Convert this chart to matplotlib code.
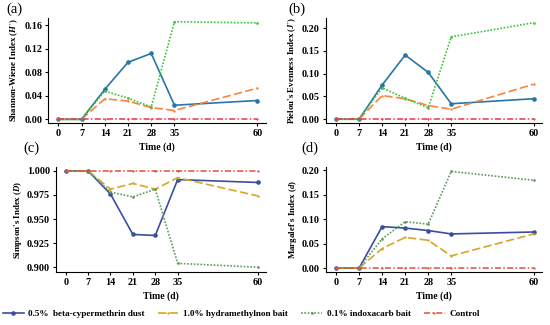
import matplotlib
matplotlib.use("Agg")
import matplotlib.pyplot as plt

plt.rcParams['font.family'] = ['Liberation Serif', 'DejaVu Serif']
plt.rcParams['mathtext.fontset'] = 'custom'
plt.rcParams['mathtext.rm'] = 'Liberation Serif:bold'
plt.rcParams['mathtext.it'] = 'Liberation Serif:italic:bold'

days = [0, 7, 14, 21, 28, 35, 60]
series_names = ["0.5%  beta-cypermethrin dust", "1.0% hydramethylnon bait",
                "0.1% indoxacarb bait", "Control"]

shannon = {
    "beta": [0, 0, 0.051, 0.097, 0.112, 0.024, 0.032],
    "hydra": [0, 0, 0.035, 0.031, 0.020, 0.015, 0.053],
    "indox": [0, 0, 0.048, 0.036, 0.021, 0.166, 0.164],
    "control": [0, 0, 0, 0, 0, 0, 0],
}
pielou = {
    "beta": [0, 0, 0.075, 0.141, 0.103, 0.034, 0.045],
    "hydra": [0, 0, 0.052, 0.045, 0.030, 0.022, 0.077],
    "indox": [0, 0, 0.069, 0.046, 0.025, 0.181, 0.212],
    "control": [0, 0, 0, 0, 0, 0, 0],
}
simpson = {
    "beta": [1, 1, 0.976, 0.934, 0.933, 0.991, 0.988],
    "hydra": [1, 1, 0.981, 0.987, 0.981, 0.993, 0.974],
    "indox": [1, 1, 0.978, 0.973, 0.981, 0.904, 0.900],
    "control": [1, 1, 1, 1, 1, 1, 1],
}
margalef = {
    "beta": [0, 0, 0.085, 0.082, 0.077, 0.070, 0.074],
    "hydra": [0, 0, 0.040, 0.063, 0.057, 0.025, 0.070],
    "indox": [0, 0, 0.060, 0.095, 0.090, 0.198, 0.180],
    "control": [0, 0, 0, 0, 0, 0, 0],
}

top_colors = {"beta": "#2677a6", "hydra": "#f98440", "indox": "#3cc43c", "control": "#e8364c"}
bot_colors = {"beta": "#3a4ea0", "hydra": "#d8a628", "indox": "#5f9a5f", "control": "#e0503a"}
styles = {"beta": dict(ls='-', marker='o', ms=2.3, lw=1.2),
          "hydra": dict(ls=(0, (5, 2)), marker='.', ms=1.5, lw=1.2),
          "indox": dict(ls=(0, (1, 1)), marker='.', ms=1.8, lw=1.2),
          "control": dict(ls=(0, (4, 1.5, 1, 1.5)), marker='.', ms=1.2, lw=1.1)}
keys = ["beta", "hydra", "indox", "control"]

fig = plt.figure(figsize=(5.5, 3.25), dpi=100)

panels = [
    ("(a)", shannon, "Shannon-Wiene Index ($\\mathit{H'}$)", [0.088, 0.622, 0.395, 0.322],
     (-0.006, 0.172), [0, 0.04, 0.08, 0.12, 0.16], "{:.2f}", top_colors, (0.012, 0.972)),
    ("(b)", pielou, "Pielou's Evenness Index ($\\mathit{J'}$)", [0.593, 0.622, 0.392, 0.322],
     (-0.008, 0.222), [0, 0.05, 0.10, 0.15, 0.20], "{:.2f}", top_colors, (0.525, 0.972)),
    ("(c)", simpson, "Simpson's Index ($\\mathit{D}$)", [0.102, 0.163, 0.381, 0.323],
     (0.895, 1.004), [0.900, 0.925, 0.950, 0.975, 1.000], "{:.3f}", bot_colors, (0.042, 0.545)),
    ("(d)", margalef, "Margalef's Index ($\\mathit{d}$)", [0.593, 0.163, 0.392, 0.323],
     (-0.008, 0.207), [0, 0.05, 0.10, 0.15, 0.20], "{:.2f}", bot_colors, (0.548, 0.545)),
]

for label, data, ylabel, pos, ylim, yticks, fmt, cols, lpos in panels:
    ax = fig.add_axes(pos)
    for k in keys:
        ax.plot(days, data[k], color=cols[k], **styles[k])
    ax.set_xlim(-3, 62.5)
    ax.set_ylim(*ylim)
    ax.set_xticks(days)
    ax.set_yticks(yticks)
    ax.set_yticklabels([fmt.format(v) for v in yticks])
    ax.spines['top'].set_visible(False)
    ax.spines['right'].set_visible(False)
    ax.tick_params(labelsize=7.3, length=2.5, width=0.8, pad=2)
    for t in ax.get_xticklabels() + ax.get_yticklabels():
        t.set_fontweight('bold')
    ax.set_xlabel("Time (d)", fontsize=7, fontweight='bold', labelpad=3)
    ax.set_ylabel(ylabel, fontsize=6.4, fontweight='bold', labelpad=2)
    fig.text(lpos[0], lpos[1], label, fontsize=10.5, va='center', ha='left')

handles = []
for k, name in zip(keys, series_names):
    h, = plt.plot([], [], color=bot_colors[k], **styles[k])
    handles.append(h)
leg = fig.legend(handles, series_names, loc='lower left', ncol=4, frameon=False,
                 bbox_to_anchor=(-0.01, -0.005), prop={'size': 6.6, 'weight': 'bold'},
                 handlelength=2.3, columnspacing=1.4, handletextpad=0.5)

fig.savefig("out.png", dpi=100)
